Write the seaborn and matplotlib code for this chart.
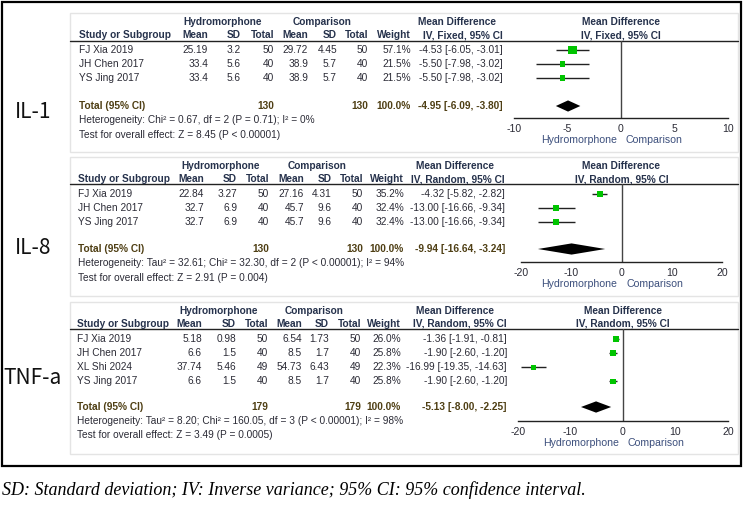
import matplotlib
matplotlib.use("Agg")
import matplotlib.pyplot as plt
from matplotlib.patches import Rectangle
import matplotlib.font_manager as fm
import seaborn as sns
import pandas as pd
import numpy as np

sns.set_style("white")
names = {f.name for f in fm.fontManager.ttflist}
body_family = ['Liberation Sans Narrow', 'Liberation Sans', 'DejaVu Sans'] if 'Liberation Sans Narrow' in names else ['Liberation Sans', 'DejaVu Sans']
plt.rcParams['font.family'] = body_family

# ---------------- data ----------------
outcomes = ["IL-1", "IL-8", "TNF-a"]
group_labels = ["Hydromorphone", "Comparison"]

il1_studies = ["FJ Xia 2019", "JH Chen 2017", "YS Jing 2017"]
il1_h_mean = [25.19, 33.4, 33.4]
il1_h_sd = [3.2, 5.6, 5.6]
il1_h_n = [50, 40, 40]
il1_c_mean = [29.72, 38.9, 38.9]
il1_c_sd = [4.45, 5.7, 5.7]
il1_c_n = [50, 40, 40]
il1_weight = [57.1, 21.5, 21.5]
il1_md = [-4.53, -5.50, -5.50]
il1_lo = [-6.05, -7.98, -7.98]
il1_hi = [-3.01, -3.02, -3.02]
il1_totals = [130, 130]
il1_pooled = [-4.95, -6.09, -3.80]
il1_method = "IV, Fixed, 95% CI"
il1_het = "Heterogeneity: Chi\u00b2 = 0.67, df = 2 (P = 0.71); I\u00b2 = 0%"
il1_test = "Test for overall effect: Z = 8.45 (P < 0.00001)"
il1_ticks = [-10, -5, 0, 5, 10]

il8_studies = ["FJ Xia 2019", "JH Chen 2017", "YS Jing 2017"]
il8_h_mean = [22.84, 32.7, 32.7]
il8_h_sd = [3.27, 6.9, 6.9]
il8_h_n = [50, 40, 40]
il8_c_mean = [27.16, 45.7, 45.7]
il8_c_sd = [4.31, 9.6, 9.6]
il8_c_n = [50, 40, 40]
il8_weight = [35.2, 32.4, 32.4]
il8_md = [-4.32, -13.00, -13.00]
il8_lo = [-5.82, -16.66, -16.66]
il8_hi = [-2.82, -9.34, -9.34]
il8_totals = [130, 130]
il8_pooled = [-9.94, -16.64, -3.24]
il8_method = "IV, Random, 95% CI"
il8_het = "Heterogeneity: Tau\u00b2 = 32.61; Chi\u00b2 = 32.30, df = 2 (P < 0.00001); I\u00b2 = 94%"
il8_test = "Test for overall effect: Z = 2.91 (P = 0.004)"
il8_ticks = [-20, -10, 0, 10, 20]

tnf_studies = ["FJ Xia 2019", "JH Chen 2017", "XL Shi 2024", "YS Jing 2017"]
tnf_h_mean = [5.18, 6.6, 37.74, 6.6]
tnf_h_sd = [0.98, 1.5, 5.46, 1.5]
tnf_h_n = [50, 40, 49, 40]
tnf_c_mean = [6.54, 8.5, 54.73, 8.5]
tnf_c_sd = [1.73, 1.7, 6.43, 1.7]
tnf_c_n = [50, 40, 49, 40]
tnf_weight = [26.0, 25.8, 22.3, 25.8]
tnf_md = [-1.36, -1.90, -16.99, -1.90]
tnf_lo = [-1.91, -2.60, -19.35, -2.60]
tnf_hi = [-0.81, -1.20, -14.63, -1.20]
tnf_totals = [179, 179]
tnf_pooled = [-5.13, -8.00, -2.25]
tnf_method = "IV, Random, 95% CI"
tnf_het = "Heterogeneity: Tau\u00b2 = 8.20; Chi\u00b2 = 160.05, df = 3 (P < 0.00001); I\u00b2 = 98%"
tnf_test = "Test for overall effect: Z = 3.49 (P = 0.0005)"
tnf_ticks = [-20, -10, 0, 10, 20]

caption = "SD: Standard deviation; IV: Inverse variance; 95% CI: 95% confidence interval."

panels = [
    dict(studies=il1_studies, h_mean=il1_h_mean, h_sd=il1_h_sd, h_n=il1_h_n, c_mean=il1_c_mean,
         c_sd=il1_c_sd, c_n=il1_c_n, weight=il1_weight, md=il1_md, lo=il1_lo, hi=il1_hi,
         totals=il1_totals, pooled=il1_pooled, method=il1_method, het=il1_het, test=il1_test, ticks=il1_ticks),
    dict(studies=il8_studies, h_mean=il8_h_mean, h_sd=il8_h_sd, h_n=il8_h_n, c_mean=il8_c_mean,
         c_sd=il8_c_sd, c_n=il8_c_n, weight=il8_weight, md=il8_md, lo=il8_lo, hi=il8_hi,
         totals=il8_totals, pooled=il8_pooled, method=il8_method, het=il8_het, test=il8_test, ticks=il8_ticks),
    dict(studies=tnf_studies, h_mean=tnf_h_mean, h_sd=tnf_h_sd, h_n=tnf_h_n, c_mean=tnf_c_mean,
         c_sd=tnf_c_sd, c_n=tnf_c_n, weight=tnf_weight, md=tnf_md, lo=tnf_lo, hi=tnf_hi,
         totals=tnf_totals, pooled=tnf_pooled, method=tnf_method, het=tnf_het, test=tnf_test, ticks=tnf_ticks),
]

# ---------------- layout (pixels) ----------------
W, H = 744, 518
layouts = [
    dict(box=(70, 13, 738, 152), label_y=112, h1=22, h2=35, line=41, row0=50, row_h=14, total=106, het=120, test=135,
         study=79, hm=208, hs=241, hn=274, cm=308, cs=337, cn=368, w=411, ci=503, hdr_h=223, hdr_c=322, md_hdr=457,
         plot=(514, 728), axis=118, side=140),
    dict(box=(70, 157, 738, 296), label_y=248, h1=166, h2=179, line=184, row0=194, row_h=14, total=249, het=263, test=278,
         study=78, hm=204, hs=237, hn=269, cm=304, cs=332, cn=363, w=404, ci=505, hdr_h=221, hdr_c=317, md_hdr=455,
         plot=(521, 722), axis=262, side=284),
    dict(box=(70, 302, 738, 454), label_y=378, h1=311, h2=324, line=329, row0=339, row_h=14.1, total=407, het=421, test=435,
         study=77, hm=202, hs=236, hn=268, cm=302, cs=329, cn=361, w=401, ci=507, hdr_h=219, hdr_c=314, md_hdr=455,
         plot=(518, 728), axis=421, side=443),
]

FS = 7.3
C_BODY = "#2b2b36"
C_HDR = "#26324c"
C_TOT = "#4f3f14"
C_SIDE = "#3c4f7c"
GREEN = "#00c400"

fig = plt.figure(figsize=(W / 100, H / 100), dpi=100)
fig.patch.set_facecolor("white")
bg = fig.add_axes([0, 0, 1, 1])
bg.set_xlim(0, W)
bg.set_ylim(H, 0)
bg.axis("off")

# outer frame
bg.add_patch(Rectangle((2, 1.5), 739, 464, fill=False, edgecolor="black", lw=1.6))


def fmt(v):
    return f"{v:g}"


for name, p, L in zip(outcomes, panels, layouts):
    x0b, y0b, x1b, y1b = L["box"]
    bg.add_patch(Rectangle((x0b, y0b), x1b - x0b, y1b - y0b, fill=False, edgecolor="#e4e4e4", lw=1))
    # outcome label
    bg.text(33, L["label_y"], name, ha="center", va="center", fontsize=15, color="#111111",
            family=["Noto Sans CJK SC", "DejaVu Sans"], fontweight="light")
    # header row 1
    kw_h = dict(fontsize=FS, color=C_HDR, fontweight="bold", va="center")
    bg.text(L["hdr_h"], L["h1"], group_labels[0], ha="center", **kw_h)
    bg.text(L["hdr_c"], L["h1"], group_labels[1], ha="center", **kw_h)
    bg.text(L["md_hdr"], L["h1"], "Mean Difference", ha="center", **kw_h)
    pmid = (L["plot"][0] + L["plot"][1]) / 2
    bg.text(pmid, L["h1"], "Mean Difference", ha="center", **kw_h)
    # header row 2
    bg.text(L["study"], L["h2"], "Study or Subgroup", ha="left", **kw_h)
    for key, lab in [("hm", "Mean"), ("hs", "SD"), ("hn", "Total"), ("cm", "Mean"), ("cs", "SD"),
                     ("cn", "Total"), ("w", "Weight"), ("ci", p["method"])]:
        bg.text(L[key], L["h2"], lab, ha="right", **kw_h)
    bg.text(pmid, L["h2"], p["method"], ha="center", **kw_h)
    bg.plot([x0b, x1b], [L["line"], L["line"]], color="#222222", lw=1)

    # study rows
    kw_b = dict(fontsize=FS, color=C_BODY, va="center")
    for i, s in enumerate(p["studies"]):
        y = L["row0"] + i * L["row_h"]
        bg.text(L["study"], y, s, ha="left", **kw_b)
        bg.text(L["hm"], y, fmt(p["h_mean"][i]), ha="right", **kw_b)
        bg.text(L["hs"], y, fmt(p["h_sd"][i]), ha="right", **kw_b)
        bg.text(L["hn"], y, fmt(p["h_n"][i]), ha="right", **kw_b)
        bg.text(L["cm"], y, fmt(p["c_mean"][i]), ha="right", **kw_b)
        bg.text(L["cs"], y, fmt(p["c_sd"][i]), ha="right", **kw_b)
        bg.text(L["cn"], y, fmt(p["c_n"][i]), ha="right", **kw_b)
        bg.text(L["w"], y, f"{p['weight'][i]:.1f}%", ha="right", **kw_b)
        bg.text(L["ci"], y, f"{p['md'][i]:.2f} [{p['lo'][i]:.2f}, {p['hi'][i]:.2f}]", ha="right", **kw_b)

    # total row
    kw_t = dict(fontsize=FS, color=C_TOT, fontweight="bold", va="center")
    yt = L["total"]
    bg.text(L["study"], yt, "Total (95% CI)", ha="left", **kw_t)
    bg.text(L["hn"], yt, fmt(p["totals"][0]), ha="right", **kw_t)
    bg.text(L["cn"], yt, fmt(p["totals"][1]), ha="right", **kw_t)
    bg.text(L["w"], yt, "100.0%", ha="right", **kw_t)
    est, plo, phi = p["pooled"]
    bg.text(L["ci"], yt, f"{est:.2f} [{plo:.2f}, {phi:.2f}]", ha="right", **kw_t)
    bg.text(L["study"], L["het"], p["het"], ha="left", **kw_b)
    bg.text(L["study"], L["test"], p["test"], ha="left", **kw_b)

    # forest plot
    px0, px1 = L["plot"]
    ax = fig.add_axes([px0 / W, 1 - L["axis"] / H, (px1 - px0) / W, (L["axis"] - L["line"]) / H])
    ax.patch.set_alpha(0)
    ticks = p["ticks"]
    ax.set_xlim(ticks[0], ticks[-1])
    ytop = (L["line"] - L["row0"]) / L["row_h"]
    ybot = (L["axis"] - L["row0"]) / L["row_h"]
    ax.set_ylim(ybot, ytop)
    rows = np.arange(len(p["md"]))
    df = pd.DataFrame(dict(md=p["md"], row=rows, weight=p["weight"]))
    ax.axvline(0, color="#444444", lw=1, zorder=1)
    ax.hlines(rows, p["lo"], p["hi"], color="#222222", lw=1, zorder=2)
    sns.scatterplot(data=df, x="md", y="row", size="weight", sizes=(0, 62), size_norm=(0, 100),
                    marker="s", color=GREEN, edgecolor="none", linewidth=0, legend=False, ax=ax, zorder=3)
    ty = (yt - L["row0"]) / L["row_h"]
    hh = 0.4
    ax.fill([plo, est, phi, est], [ty, ty - hh, ty, ty + hh], color="black", lw=0, zorder=3)
    for sp in ["top", "left", "right"]:
        ax.spines[sp].set_visible(False)
    ax.spines["bottom"].set_linewidth(1)
    ax.spines["bottom"].set_color("#222222")
    ax.set_yticks([])
    ax.set_xticks(ticks)
    ax.set_xticklabels([fmt(t) for t in ticks])
    ax.tick_params(axis="x", direction="inout", length=7, width=1, labelsize=FS + 0.3, pad=1,
                   color="#222222", labelcolor=C_BODY)
    ax.set_xlabel("")
    ax.set_ylabel("")
    zx = L["plot"][0] + (0 - ticks[0]) / (ticks[-1] - ticks[0]) * (L["plot"][1] - L["plot"][0])
    bg.text(zx - 4, L["side"], group_labels[0], ha="right", va="center", fontsize=FS + 0.3, color=C_SIDE)
    bg.text(zx + 5, L["side"], group_labels[1], ha="left", va="center", fontsize=FS + 0.3, color=C_SIDE)

bg.text(2, 490, caption, ha="left", va="center", fontsize=13, style="italic",
        family=["Liberation Serif", "DejaVu Serif"], color="black")

fig.savefig("out.png", dpi=100, facecolor="white")
